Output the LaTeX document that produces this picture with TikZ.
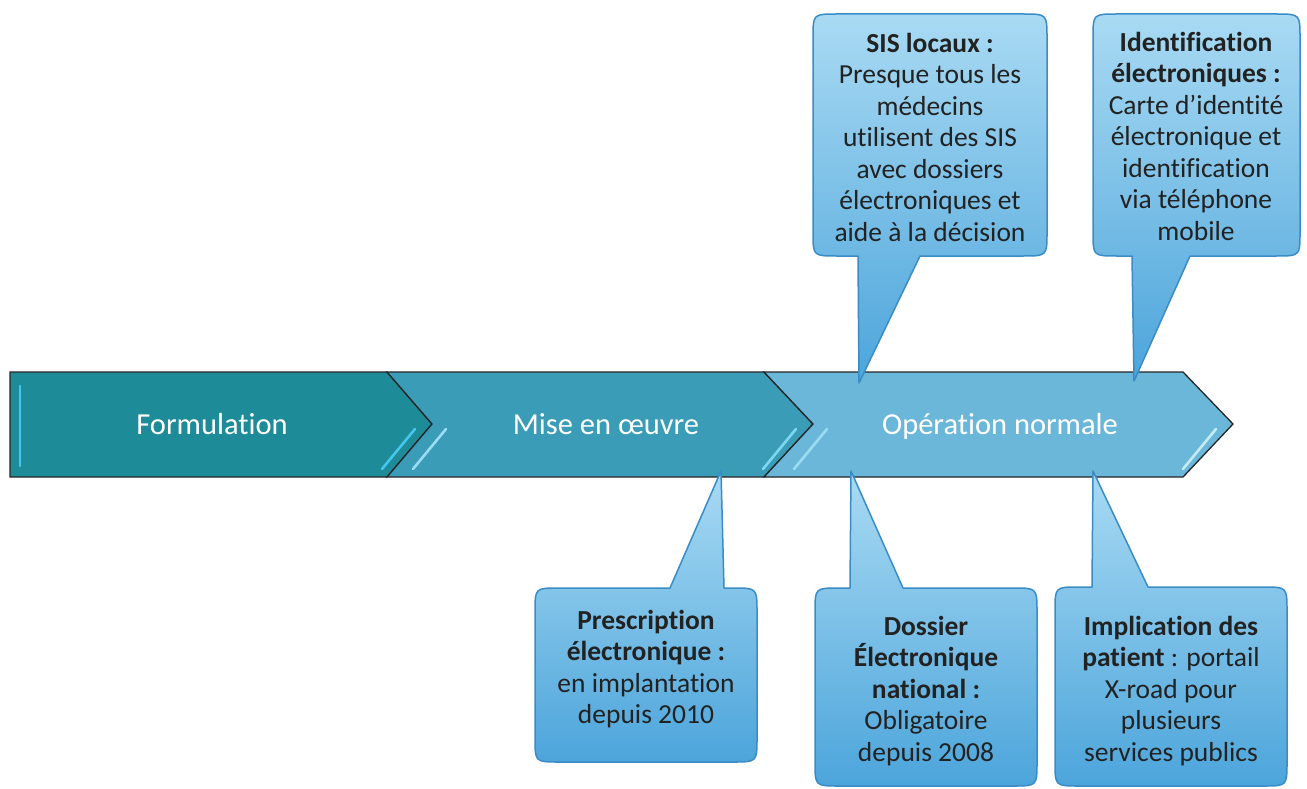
\documentclass[tikz,border=0pt]{standalone}
\usepackage{fontspec}
\setmainfont[Ligatures={NoCommon}]{Carlito}
\definecolor{segA}{HTML}{1E8B99}
\definecolor{segB}{HTML}{3A9CB6}
\definecolor{segC}{HTML}{6AB7DA}
\definecolor{glowA}{HTML}{45C6EC}
\definecolor{glowB}{HTML}{9ADCF2}
\definecolor{calTop}{HTML}{A9DAF3}
\definecolor{calBot}{HTML}{4CA5DB}
\definecolor{calEdge}{HTML}{3A8CC6}
\definecolor{calText}{HTML}{222222}
\tikzset{
  seg/.style={draw=black!85, line width=1.3pt, line join=miter},
  glow/.style={line width=2.6pt, line cap=round},
  callout/.style={top color=calTop, bottom color=calBot, draw=calEdge, line width=1.5pt, line join=round},
  phase/.style={text=white, font=\fontsize{30.5}{36}\selectfont, inner sep=0pt, anchor=base},
  note/.style={text=calText, align=center, inner sep=0pt, font=\fontsize{27.5}{31.5}\selectfont}
}
\begin{document}
\begin{tikzpicture}[x=1pt,y=-1pt]
\useasboundingbox (0,0) rectangle (1307,789);

% phase chevrons
\fill[white] (0,0) rectangle (1307,789);
\filldraw[seg, fill=segA] (10,372) -- (387,372) -- (432,424) -- (387,477) -- (10,477) -- cycle;
\filldraw[seg, fill=segB] (387,372) -- (764,372) -- (813,424) -- (764,477) -- (387,477) -- (432,424) -- cycle;
\filldraw[seg, fill=segC] (764,372) -- (1183,372) -- (1233,424) -- (1183,477) -- (764,477) -- (813,424) -- cycle;

% glossy highlights on the chevrons
\draw[glow, glowA] (20,386) -- (20,466);
\draw[glow, glowA] (415,429) -- (382,469);
\draw[glow, glowB] (446,429) -- (413,469);
\draw[glow, glowA!70!white] (796,429) -- (763,469);
\draw[glow, glowB] (827,429) -- (794,469);
\draw[glow, glowB!60!white] (1216,429) -- (1183,469);

\node[phase] (p1) at (212,434) {Formulation};
\node[phase] (p2) at (606,434) {Mise en œuvre};
\node[phase] (p3) at (1000,434) {Opération normale};

% callout tips on the timeline
\coordinate (tSIS) at (859,383);
\coordinate (tID) at (1134,381);
\coordinate (tRX) at (721,471);
\coordinate (tDN) at (851,471);
\coordinate (tPT) at (1093,471);

% callouts above the timeline
\shadedraw[callout] (858,256) -- (tSIS) -- (920,256) -- (1023,256) .. controls (1047,256) .. (1047,232)
  -- (1047,38) .. controls (1047,14) .. (1023,14) -- (837,14) .. controls (813,14) .. (813,38)
  -- (813,232) .. controls (813,256) .. (837,256) -- cycle;
\shadedraw[callout] (1132,256) -- (tID) -- (1190,256) -- (1276,256) .. controls (1300,256) .. (1300,232)
  -- (1300,38) .. controls (1300,14) .. (1276,14) -- (1117,14) .. controls (1093,14) .. (1093,38)
  -- (1093,232) .. controls (1093,256) .. (1117,256) -- cycle;

% callouts below the timeline
\shadedraw[callout] (670,588) -- (tRX) -- (724,588) -- (733,588) .. controls (757,588) .. (757,612)
  -- (757,738) .. controls (757,762) .. (733,762) -- (559,762) .. controls (535,762) .. (535,738)
  -- (535,612) .. controls (535,588) .. (559,588) -- cycle;
\shadedraw[callout] (850,588) -- (tDN) -- (903,588) -- (1013,588) .. controls (1037,588) .. (1037,612)
  -- (1037,762) .. controls (1037,786) .. (1013,786) -- (839,786) .. controls (815,786) .. (815,762)
  -- (815,612) .. controls (815,588) .. (839,588) -- cycle;
\shadedraw[callout] (1092,587) -- (tPT) -- (1148,587) -- (1263,587) .. controls (1287,587) .. (1287,611)
  -- (1287,762) .. controls (1287,786) .. (1263,786) -- (1079,786) .. controls (1055,786) .. (1055,762)
  -- (1055,611) .. controls (1055,587) .. (1079,587) -- cycle;

% callout texts
\node[note] (nSIS) at (930,137) {\textbf{SIS locaux :}\\Presque tous les\\médecins\\utilisent des SIS\\avec dossiers\\électroniques et\\aide à la décision};
\node[note] (nID) at (1196,136) {\textbf{Identification}\\\textbf{électroniques :}\\Carte d’identité\\électronique et\\identification\\via téléphone\\mobile};
\node[note] (nRX) at (646,669) {\textbf{Prescription}\\\textbf{électronique :}\\en implantation\\depuis 2010};
\node[note] (nDN) at (926,691) {\textbf{Dossier}\\\textbf{Électronique}\\\textbf{national :}\\Obligatoire\\depuis 2008};
\node[note] (nPT) at (1171,691) {\textbf{Implication des}\\\textbf{patient} : portail\\X-road pour\\plusieurs\\services publics};
\end{tikzpicture}
\end{document}
